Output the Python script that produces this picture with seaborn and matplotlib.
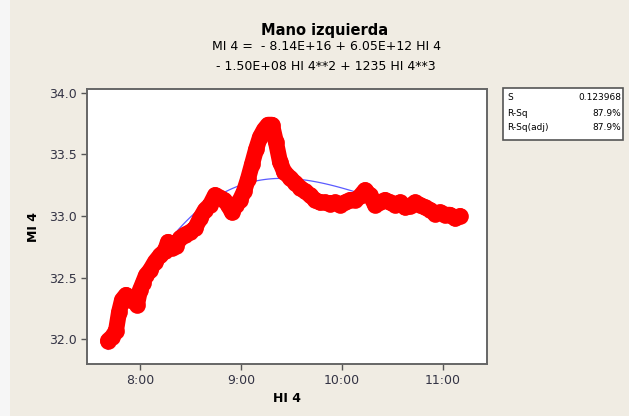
import matplotlib
matplotlib.use("Agg")
import matplotlib.pyplot as plt
import seaborn as sns
import pandas as pd
from matplotlib.patches import Rectangle

# Trace: time of day in hours, MI 4 value
hora = [7.683, 7.723, 7.762, 7.792, 7.822, 7.861, 7.901, 7.941, 7.970, 8.000,
        8.030, 8.059, 8.099, 8.149, 8.198, 8.248, 8.277, 8.317, 8.356, 8.396,
        8.446, 8.495, 8.545, 8.594, 8.644, 8.693, 8.743, 8.792, 8.832, 8.871,
        8.911, 8.950, 8.990, 9.030, 9.069, 9.109, 9.149, 9.188, 9.228, 9.267,
        9.307, 9.346, 9.386, 9.426, 9.485, 9.535, 9.584, 9.634, 9.683, 9.733,
        9.782, 9.832, 9.881, 9.931, 9.980, 10.030, 10.079, 10.129, 10.178, 10.228,
        10.277, 10.327, 10.376, 10.426, 10.475, 10.525, 10.574, 10.624, 10.673, 10.723,
        10.772, 10.822, 10.871, 10.921, 10.970, 11.020, 11.069, 11.119, 11.168]
mi4 = [31.99, 32.02, 32.07, 32.22, 32.32, 32.36, 32.32, 32.32, 32.28, 32.40,
       32.46, 32.52, 32.56, 32.63, 32.68, 32.72, 32.79, 32.74, 32.76, 32.82,
       32.85, 32.87, 32.90, 32.98, 33.05, 33.09, 33.17, 33.15, 33.13, 33.09,
       33.03, 33.09, 33.13, 33.20, 33.30, 33.42, 33.54, 33.64, 33.70, 33.74,
       33.74, 33.60, 33.44, 33.36, 33.31, 33.27, 33.23, 33.20, 33.17, 33.13,
       33.11, 33.11, 33.10, 33.11, 33.09, 33.11, 33.13, 33.13, 33.16, 33.21,
       33.17, 33.09, 33.11, 33.13, 33.11, 33.09, 33.11, 33.07, 33.08, 33.11,
       33.09, 33.07, 33.05, 33.02, 33.03, 33.01, 33.01, 32.98, 33.00]

xticks = [8, 9, 10, 11]
xtick_labels = ["8:00", "9:00", "10:00", "11:00"]
yticks = [32.0, 32.5, 33.0, 33.5, 34.0]

stat_names = ["S", "R-Sq", "R-Sq(adj)"]
stat_values = ["0.123968", "87.9%", "87.9%"]

df = pd.DataFrame({"HI 4": hora, "MI 4": mi4})

bg = "#f0ece3"
fig = plt.figure(figsize=(6.29, 4.16), dpi=100, facecolor=bg)
# light strip on the left edge
fig.patches.append(Rectangle((0, 0), 10 / 629, 1, transform=fig.transFigure,
                             facecolor="#f6f6f6", edgecolor="none", zorder=0))
ax = fig.add_axes([87 / 629, 52 / 416, 400 / 629, 275 / 416])
ax.set_facecolor("white")

# cubic fit (drawn under the data)
sns.regplot(data=df, x="HI 4", y="MI 4", order=3, scatter=False, ci=None,
            line_kws={"color": "#5b5bff", "lw": 0.9, "zorder": 1}, ax=ax)

# data trace: thick band of round blobs
sns.lineplot(data=df, x="HI 4", y="MI 4", estimator=None, color="#ff0000",
             lw=11.5, solid_capstyle="round", solid_joinstyle="round",
             marker="o", markersize=12, markeredgewidth=0,
             zorder=2, ax=ax)

ax.set_xlim(7.475, 11.436)
ax.set_ylim(31.80, 34.03)
ax.set_xticks(xticks)
ax.set_xticklabels(xtick_labels)
ax.set_yticks(yticks)
ax.set_yticklabels([f"{v:.1f}" for v in yticks])
ax.tick_params(direction="out", length=4, width=1, colors="#555555",
               labelcolor="#333344", labelsize=9)
for s in ax.spines.values():
    s.set_color("#666666")
    s.set_linewidth(1.4)

ax.set_xlabel("HI 4", fontsize=9, fontweight="bold", labelpad=3)
ax.set_ylabel("MI 4", fontsize=9, fontweight="bold", labelpad=6)

# title block
fig.text(325 / 629, 1 - 30 / 416, "Mano izquierda", ha="center", va="center",
         fontsize=10.5, fontweight="bold")
fig.text(326 / 629, 1 - 47 / 416, "MI 4 =  - 8.14E+16 + 6.05E+12 HI 4",
         ha="center", va="center", fontsize=9)
fig.text(326 / 629, 1 - 67 / 416, "- 1.50E+08 HI 4**2 + 1235 HI 4**3",
         ha="center", va="center", fontsize=9)

# statistics box
fig.patches.append(Rectangle((503 / 629, 1 - 140 / 416), 120 / 629, 52 / 416,
                             transform=fig.transFigure, facecolor="white",
                             edgecolor="#555555", lw=1.2, zorder=3))
for i, (n, v) in enumerate(zip(stat_names, stat_values)):
    y = 1 - (98 + 15 * i) / 416
    fig.text(507 / 629, y, n, ha="left", va="center", fontsize=6.5, zorder=4)
    fig.text(621 / 629, y, v, ha="right", va="center", fontsize=6.5, zorder=4)

fig.savefig("out.png", dpi=100, facecolor=bg)
